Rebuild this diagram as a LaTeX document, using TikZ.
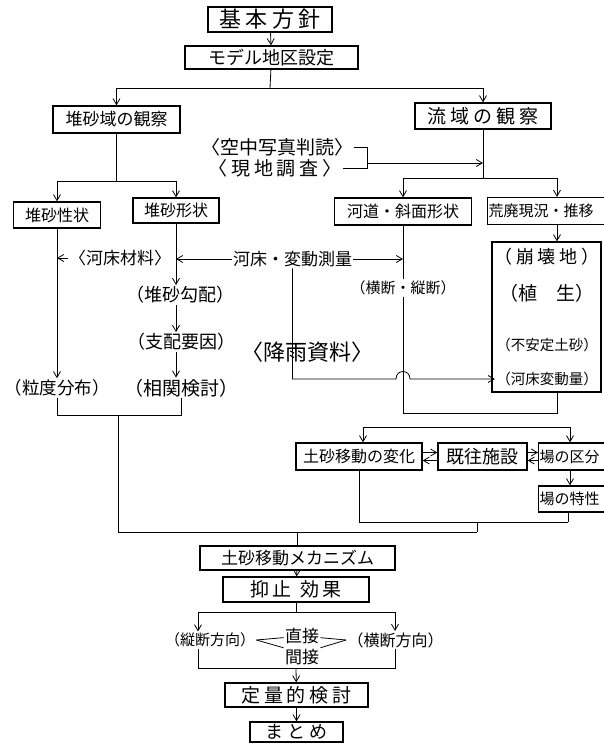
\documentclass[tikz,border=0pt]{standalone}
\usepackage{fontspec}
\newfontfamily\jp{Noto Sans CJK JP}
\newfontfamily\jpw{Noto Sans CJK JP}[LetterSpace=20]
\usetikzlibrary{arrows.meta}

\begin{document}
\begin{tikzpicture}[x=1pt,y=-1pt,line width=0.8pt,
  >={Straight Barb[length=6pt,width=7pt]},
  box/.style={draw,line width=1.3pt,inner sep=1pt,minimum height=25pt,font=\jp\fontsize{#1}{#1}\selectfont},
  wbox/.style={box=#1,font=\jpw\fontsize{#1}{#1}\selectfont},
  lab/.style={inner sep=1pt,font=\jp\fontsize{#1}{#1}\selectfont},
  wlab/.style={lab=#1,font=\jpw\fontsize{#1}{#1}\selectfont}]
\clip (0,0) rectangle (604,745);

\node[wbox=22,minimum width=124pt] (kihon) at (270,19.5) {基本方針};
\node[box=18,minimum width=173pt,minimum height=23pt] (model) at (271.5,57.5) {モデル地区設定};
\node[box=17,minimum width=127pt,minimum height=27pt] (taisaobs) at (116.5,119.5) {堆砂域の観察};
\node[wbox=19,minimum width=136pt,minimum height=26pt] (ryuobs) at (483,116) {流域の観察};
\node[lab=19] (kuchu) at (277,147) {〈空中写真判読〉};
\node[wlab=19] (genchi) at (275,168) {〈現地調査〉};

\node[box=16,minimum width=87pt,minimum height=26pt] (seijo) at (57,215) {堆砂性状};
\node[box=16,minimum width=86pt] (keijo) at (176,210.5) {堆砂形状};
\node[box=16,minimum width=137pt,minimum height=27pt] (kado) at (403,211.5) {河道・斜面形状};
\node[box=15,minimum height=27pt,anchor=west] (kohai) at (487,211) {\makebox[136pt][l]{荒廃現況・推移}};
\node[draw,line width=1.3pt,minimum width=109pt,minimum height=150pt] (bigbox) at (546.5,317) {};

\node[lab=17] (zairyo) at (120,258) {〈河床材料〉};
\node[lab=17] (sokuryo) at (292.5,259) {河床・変動測量};
\node[lab=18] (kobai) at (180,295) {（堆砂勾配）};
\node[lab=18] (shihai) at (181,342) {（支配要因）};
\node[lab=22] (kou) at (307,352) {〈降雨資料〉};
\node[lab=15] (odan) at (403,288) {（横断・縦断）};
\node[wlab=18] (hokai) at (547,257) {（崩壊地）};
\node[lab=19] (shokusei) at (547,293) {（植　生）};
\node[lab=14.5] (fuantei) at (547,345) {（不安定土砂）};
\node[lab=14.5] (hendo) at (547,379) {（河床変動量）};
\node[lab=17.5] (ryudo) at (57.5,388) {（粒度分布）};
\node[lab=19] (sokan) at (181,388) {（相関検討）};

\node[box=16,minimum width=126pt,minimum height=27pt] (henka) at (359,456.5) {土砂移動の変化};
\node[box=18,minimum width=89pt,minimum height=27pt] (kiou) at (482.5,456.5) {既往施設};
\node[box=15,minimum height=27pt,anchor=west] (kubun) at (538,456.5) {\makebox[78pt][l]{場の区分}};
\node[box=15,minimum height=26pt,anchor=west] (tokusei) at (538,499) {\makebox[78pt][l]{場の特性}};
\node[box=17,minimum width=195pt,minimum height=24pt] (mech) at (297.5,558) {土砂移動メカニズム};
\node[wbox=19,minimum width=146pt] (yokushi) at (296,589.5) {抑止 効果};
\node[lab=15] (judan) at (210,640) {（縦断方向）};
\node[lab=17] (choku) at (302,636) {直接};
\node[lab=17] (kan) at (302,657) {間接};
\node[lab=16] (oudan) at (395.5,640) {（横断方向）};
\node[wbox=19,minimum width=143pt,minimum height=24pt] (teiryo) at (296.5,695) {定量的検討};
\node[wbox=18,minimum width=93pt,minimum height=20pt] (matome) at (296.5,732) {まとめ};

\coordinate (split1) at (270,88);
\coordinate (split2) at (116.5,181);
\coordinate (split3) at (483,178);
\coordinate (split4) at (557,178);
\coordinate (brkt) at (367,147);
\coordinate (brkb) at (367,168);
\coordinate (brkm) at (367,163);
\coordinate (humpL) at (396,379);
\coordinate (humpR) at (410,379);
\coordinate (j1) at (403,413);
\coordinate (j2) at (557,413);
\coordinate (s4a) at (363,427);
\coordinate (s4b) at (570,427);
\coordinate (l1) at (118,415);
\coordinate (m2) at (568,522);
\coordinate (m3) at (477,522);
\coordinate (m4) at (477,532);
\coordinate (mj) at (297.5,532);
\coordinate (s5) at (296,612);
\coordinate (s5a) at (198,612);
\coordinate (s5b) at (395,612);
\coordinate (b1) at (198,668);
\coordinate (b2) at (395,668);
\coordinate (bm) at (296,668);

\draw[->] (kihon) -- (model);
\draw (model) -- (split1);
\draw[->] (split1) -| (taisaobs);
\draw[->] (split1) -| (ryuobs);
\draw (taisaobs) -- (split2);
\draw[->] (split2) -| (seijo);
\draw[->] (split2) -| (keijo);
\draw (ryuobs) -- (split3);
\draw[->] (split3) -| (kado);
\draw (split3) -- (split4);
\draw[->] (split4) -- (split4 |- kohai.north);
\draw (kuchu.east) -- (brkt) -- (brkb) -- (genchi.east);
\draw[->] (brkm) -- (brkm -| ryuobs);

\draw[->] (seijo.south) -- (seijo.south |- ryudo.north);
\draw[->] (zairyo) -- (zairyo -| seijo);
\draw[->] (keijo.south) -- (keijo.south |- kobai.north);
\draw[->] (sokuryo) -- (sokuryo -| keijo);
\draw[->] (sokuryo) -- (sokuryo -| kado);
\draw[->] (kobai.south -| keijo) -- (shihai.north -| keijo);
\draw[->] (shihai.south -| keijo) -- (sokan.north -| keijo);
\draw (kado) -- (odan);
\draw (odan) -- (j1) -- (j2) -- (j2 |- bigbox.south);
\draw[->] (sokuryo.south) |- (humpL) .. controls +(0,-10) and +(0,-10) .. (humpR) -- (hendo);
\draw[->] (split4 |- kohai.south) -- (split4 |- bigbox.north);

\draw[->] (s4a) -- (s4a |- henka.north);
\draw (s4a) -- (s4b);
\draw[->] (s4b) -- (s4b |- kubun.north);
\draw[->] ([yshift=4pt]henka.east) -- ([yshift=4pt]kiou.west);
\draw[->] ([yshift=-4pt]kiou.west) -- ([yshift=-4pt]henka.east);
\draw[->] ([yshift=4pt]kiou.east) -- ([yshift=4pt]kubun.west);
\draw[->] ([yshift=-4pt]kubun.west) -- ([yshift=-4pt]kiou.east);
\draw[->] (s4b |- kubun.south) -- (s4b |- tokusei.north);

\draw (ryudo.south) |- (l1);
\draw (sokan.south) |- (l1);
\draw (l1) |- (m4);
\draw (henka) |- (m2);
\draw (m2) -- (m2 |- tokusei.south);
\draw (m3) -- (m4);
\draw (mj) -- (mech);
\draw[->] (mech) -- (yokushi);
\draw (yokushi) -- (s5);
\draw[->] (s5a) -- (s5a |- judan.north);
\draw (s5a) -- (s5b);
\draw[->] (s5b) -- (s5b |- oudan.north);
\draw (judan.east) -- (choku);
\draw (choku) -- (oudan.west);
\draw (judan.east) -- (kan.north west);
\draw (kan.north east) -- (oudan.west);
\draw (b1 |- judan.south) -- (b1) -- (b2) -- (b2 |- oudan.south);
\draw[->] (bm) -- (teiryo);
\draw[->] (teiryo) -- (matome);
\end{tikzpicture}
\end{document}
